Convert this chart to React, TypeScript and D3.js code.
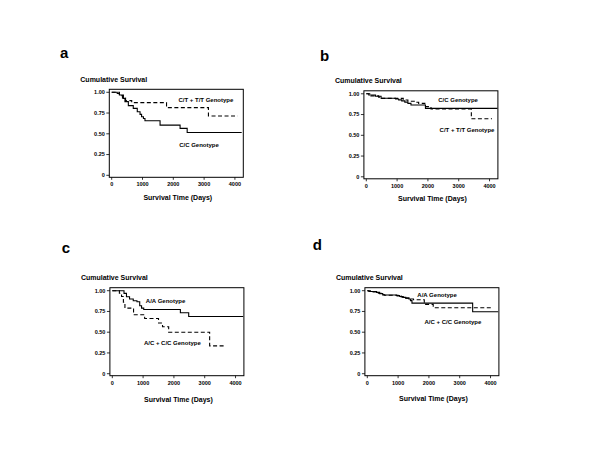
import * as d3 from "d3";

// Kaplan-Meier step data (days, cumulative survival)
const aSolidTime = [0, 180, 250, 380, 430, 540, 700, 830, 920, 970, 1030, 1080, 1570, 2220, 2450, 4220];
const aSolidSurv = [1, 0.985, 0.968, 0.927, 0.887, 0.839, 0.806, 0.766, 0.734, 0.706, 0.685, 0.657, 0.605, 0.565, 0.515, 0.515];
const aDashTime = [0, 250, 350, 450, 650, 1780, 3140, 4090];
const aDashSurv = [1, 0.96, 0.93, 0.9, 0.875, 0.815, 0.715, 0.715];

const bSolidTime = [0, 80, 300, 480, 950, 1050, 1150, 1250, 1350, 1450, 1920, 4260];
const bSolidSurv = [1, 0.985, 0.97, 0.947, 0.937, 0.927, 0.915, 0.9, 0.885, 0.865, 0.824, 0.824];
const bDashTime = [0, 150, 400, 500, 1200, 1350, 1600, 1700, 1900, 2100, 3410, 4080];
const bDashSurv = [1, 0.975, 0.96, 0.945, 0.925, 0.91, 0.898, 0.885, 0.845, 0.816, 0.7, 0.7];

const cSolidTime = [0, 380, 460, 560, 680, 800, 890, 950, 1020, 2210, 2480, 4250];
const cSolidSurv = [1, 0.968, 0.927, 0.899, 0.879, 0.867, 0.819, 0.79, 0.774, 0.734, 0.69, 0.69];
const cDashTime = [0, 230, 300, 360, 410, 690, 1050, 1500, 1630, 1830, 3160, 3620];
const cDashSurv = [1, 0.97, 0.93, 0.86, 0.79, 0.71, 0.665, 0.61, 0.565, 0.5, 0.335, 0.335];

const dSolidTime = [0, 50, 300, 400, 500, 950, 1050, 1150, 1250, 1350, 1400, 1450, 3420, 4250];
const dSolidSurv = [1, 0.99, 0.98, 0.965, 0.948, 0.94, 0.93, 0.92, 0.91, 0.9, 0.88, 0.85, 0.747, 0.747];
const dDashTime = [0, 100, 300, 450, 550, 1000, 1100, 1250, 1350, 1500, 1850, 2140, 4090];
const dDashSurv = [1, 0.985, 0.97, 0.955, 0.945, 0.935, 0.925, 0.91, 0.9, 0.89, 0.835, 0.795, 0.795];

const yTicks = [0, 0.25, 0.5, 0.75, 1];
const yTickLabels = ["0", "0.25", "0.50", "0.75", "1.00"];
const xTicks = [0, 1000, 2000, 3000, 4000];

const W = 134;
const H = 88;
const FONT = "'Liberation Sans', Arial, Helvetica, sans-serif";

const panels = [
  {
    letter: "a", left: 109.3, top: 89.3, letterX: 60, letterY: 58.3, xTitleDy: 22.5,
    solid: [aSolidTime, aSolidSurv], dash: [aDashTime, aDashSurv],
    labels: [
      { text: "C/T + T/T Genotype", t: 3060, s: 0.907 },
      { text: "C/C Genotype", t: 2835, s: 0.365 },
    ],
  },
  {
    letter: "b", left: 363.9, top: 90.8, letterX: 320, letterY: 60.7, xTitleDy: 22,
    solid: [bSolidTime, bSolidSurv], dash: [bDashTime, bDashSurv],
    labels: [
      { text: "C/C Genotype", t: 2980, s: 0.925 },
      { text: "C/T + T/T Genotype", t: 3270, s: 0.57 },
    ],
  },
  {
    letter: "c", left: 109.9, top: 287.7, letterX: 61.7, letterY: 253.3, xTitleDy: 26,
    solid: [cSolidTime, cSolidSurv], dash: [cDashTime, cDashSurv],
    labels: [
      { text: "A/A Genotype", t: 1730, s: 0.88 },
      { text: "A/C + C/C Genotype", t: 1950, s: 0.375 },
    ],
  },
  {
    letter: "d", left: 364.9, top: 287.7, letterX: 312.7, letterY: 250, xTitleDy: 25,
    solid: [dSolidTime, dSolidSurv], dash: [dDashTime, dDashSurv],
    labels: [
      { text: "A/A Genotype", t: 2265, s: 0.948 },
      { text: "A/C + C/C Genotype", t: 2780, s: 0.62 },
    ],
  },
];

function Panel({ p }: { p: (typeof panels)[number] }) {
  const x = d3.scaleLinear().domain([-78, 4272]).range([p.left, p.left + W]);
  const y = d3.scaleLinear().domain([-0.024, 1.036]).range([p.top + H, p.top]);

  const line = d3
    .line<[number, number]>()
    .curve(d3.curveStepAfter)
    .x((d) => x(d[0]))
    .y((d) => y(d[1]));

  const pts = (ts: number[], ss: number[]) => ts.map((t, i) => [t, ss[i]] as [number, number]);

  return (
    <g fontFamily={FONT} fontWeight="bold" fill="#000">
      <text x={p.letterX} y={p.letterY} fontSize={15}>
        {p.letter}
      </text>
      <text x={p.left - 29} y={p.top - 7.7} fontSize={7}>
        Cumulative Survival
      </text>
      <rect x={p.left} y={p.top} width={W} height={H} fill="none" stroke="#000" strokeWidth={1} />
      {yTicks.map((t, i) => (
        <g key={"y" + t}>
          <line x1={p.left - 3} x2={p.left} y1={y(t)} y2={y(t)} stroke="#000" strokeWidth={0.8} />
          <text x={p.left - 4.5} y={y(t)} dy="0.35em" fontSize={5.5} textAnchor="end">
            {yTickLabels[i]}
          </text>
        </g>
      ))}
      {xTicks.map((t) => (
        <g key={"x" + t}>
          <line x1={x(t)} x2={x(t)} y1={p.top + H} y2={p.top + H + 2.5} stroke="#000" strokeWidth={0.8} />
          <text x={x(t)} y={p.top + H + 9} fontSize={5.5} textAnchor="middle">
            {t}
          </text>
        </g>
      ))}
      <text x={p.left + W / 2 + 1.5} y={p.top + H + p.xTitleDy} fontSize={7} textAnchor="middle">
        Survival Time (Days)
      </text>
      <path d={line(pts(p.dash[0], p.dash[1])) || ""} fill="none" stroke="#000" strokeWidth={1.1} strokeDasharray="4,2.5" />
      <path d={line(pts(p.solid[0], p.solid[1])) || ""} fill="none" stroke="#000" strokeWidth={1.1} />
      {p.labels.map((l) => (
        <text key={l.text} x={x(l.t)} y={y(l.s)} dy="0.35em" fontSize={6} textAnchor="middle">
          {l.text}
        </text>
      ))}
    </g>
  );
}

export default function App() {
  return (
    <svg
      width={600}
      height={464}
      style={{ position: "absolute", left: 0, top: 0, background: "#fff" }}
    >
      <rect width={600} height={464} fill="#fff" />
      {panels.map((p) => (
        <Panel key={p.letter} p={p} />
      ))}
    </svg>
  );
}
